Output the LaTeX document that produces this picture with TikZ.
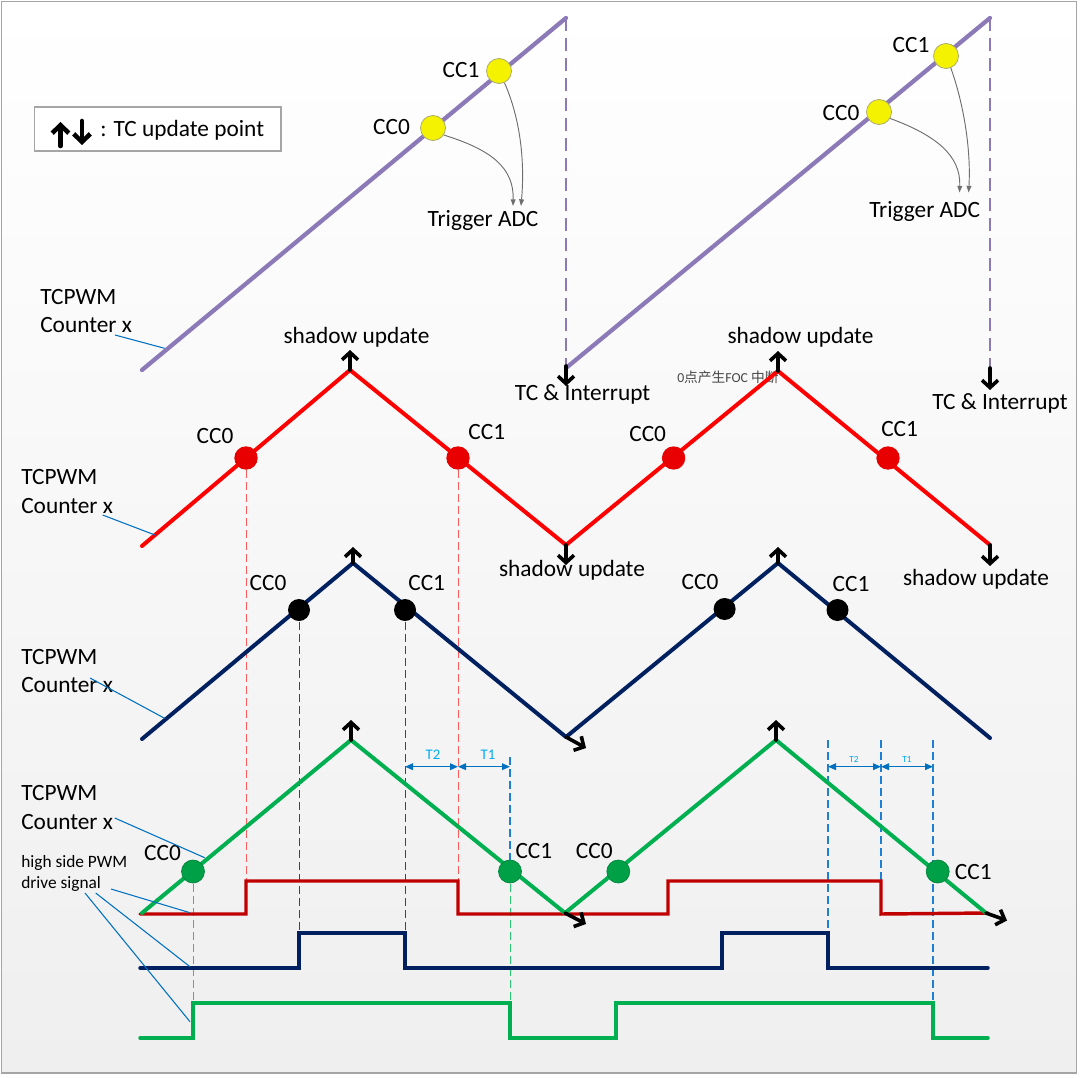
\documentclass[tikz,border=0pt]{standalone}
\usepackage{fontspec}
\setmainfont{Carlito}
\newfontfamily\cjk{Noto Sans CJK SC}
\usetikzlibrary{arrows.meta}
\definecolor{purp}{RGB}{140,122,184}
\definecolor{wred}{RGB}{255,0,0}
\definecolor{cred}{RGB}{232,0,0}
\definecolor{pred}{RGB}{192,0,0}
\definecolor{navy}{RGB}{0,32,96}
\definecolor{grn}{RGB}{0,176,80}
\definecolor{cgrn}{RGB}{0,160,70}
\definecolor{cgrnd}{RGB}{0,130,60}
\definecolor{lead}{RGB}{0,112,192}
\definecolor{tlab}{RGB}{0,170,240}
\definecolor{ltblue}{RGB}{30,128,210}
\definecolor{dred}{RGB}{255,90,90}
\definecolor{dnavy}{RGB}{40,70,140}
\definecolor{dgrn}{RGB}{40,200,110}
\definecolor{ylw}{RGB}{245,242,0}
\definecolor{ybord}{RGB}{170,170,110}
\definecolor{trg}{RGB}{110,110,110}
\definecolor{bgb}{RGB}{239,239,239}
\definecolor{frame}{RGB}{165,165,165}
\begin{document}
\begin{tikzpicture}[x=0.75pt,y=-0.75pt,
  txt/.style={inner sep=0pt, font=\fontsize{17.5}{21}\selectfont},
  smalltxt/.style={inner sep=0pt, font=\fontsize{13}{16}\selectfont},
  saw/.style={draw=purp, line width=3.2pt, line cap=round},
  sawdash/.style={draw=purp, line width=2pt, dash pattern=on 10pt off 5pt},
  wave/.style={line width=3pt, line cap=round, line join=round},
  pwm/.style={line width=2.6pt, line cap=round, line join=miter},
  upd/.style={draw=black, line width=2.7pt, line cap=round, -{Straight Barb[length=5.5pt,width=12pt]}},
  guide/.style={line width=0.75pt, dash pattern=on 6pt off 3pt},
  bguide/.style={line width=0.9pt, dash pattern=on 6pt off 3pt, draw=ltblue},
  leader/.style={draw=lead, line width=0.8pt},
  dot/.style={circle, inner sep=0pt},
  ydot/.style={dot, minimum size=18.75pt, fill=ylw, draw=ybord, line width=0.6pt},
  rdot/.style={dot, minimum size=17.5pt, fill=cred},
  kdot/.style={dot, minimum size=16.5pt, fill=black},
  gdot/.style={dot, minimum size=17.25pt, fill=cgrn, draw=cgrnd, line width=0.5pt},
  trig/.style={draw=trg, line width=0.7pt, -{Triangle[length=5pt,width=3.6pt]}},
  tspan/.style={draw=lead, line width=1pt, {Triangle[length=6pt,width=5pt]}-{Triangle[length=6pt,width=5pt]}},
]
\useasboundingbox (0,0) rectangle (1080,1077);
\fill[white] (0,0) rectangle (1080,1077);
\shade[top color=white, bottom color=bgb] (1.5,1.5) rectangle (1076.5,1073);
\draw[frame, line width=1pt] (1.5,1.5) rectangle (1076.5,1073);

% legend
\node[draw=frame, fill=white, line width=0.8pt, minimum width=184.9pt, minimum height=33pt, inner sep=0pt] (legend) at (157.75,129) {};
\node[txt, anchor=west] (legtxt) at (100,130) {: TC update point};
\coordinate (lu0) at (60.5,146); \coordinate (lu1) at (60.5,122);
\coordinate (ld0) at (82,121); \coordinate (ld1) at (82,145);
\draw[upd, line width=3.4pt, -{Straight Barb[length=6pt,width=12.5pt]}] (lu0) -- (lu1);
\draw[upd, line width=3.4pt, -{Straight Barb[length=6pt,width=12.5pt]}] (ld0) -- (ld1);

% coordinates
\coordinate (p0) at (142,370); \coordinate (p1) at (566,18);
\coordinate (p2) at (566,368); \coordinate (p3) at (990,18);
\coordinate (pd1) at (566,366); \coordinate (pt1) at (566,386);
\coordinate (pd2) at (990,368); \coordinate (pt2) at (990,390);

\coordinate (r0) at (142,546); \coordinate (r1) at (350,370); \coordinate (r2) at (566,545);
\coordinate (r3) at (778,371); \coordinate (r4) at (990,545);
\coordinate (n0) at (142,739); \coordinate (n1) at (353,563); \coordinate (n2) at (566,737);
\coordinate (n3) at (778,563); \coordinate (n4) at (990,738);
\coordinate (g0) at (142,913); \coordinate (g1) at (351,740); \coordinate (g2) at (565,913);
\coordinate (g3) at (776,740); \coordinate (g4) at (986,913);

% guide dashed lines (first half)
\draw[guide, draw=dred] (246,458) -- (246,881);
\draw[guide, draw=dred] (458,458) -- (458,881);
\draw[guide, draw=dnavy] (299,610) -- (299,933);
\draw[guide, draw=dnavy] (405,610) -- (405,933);
\draw[guide, draw=dgrn] (193,871.5) -- (193,1003);
\draw[guide, draw=dgrn] (510,871.5) -- (510,1003);
\draw[bguide] (510,757) -- (510,860);
% second half
\draw[bguide] (828,740) -- (828,933);
\draw[bguide] (881,740) -- (881,881);
\draw[bguide] (933,740) -- (933,1003);

% T spans
\coordinate (ta) at (405,766.7); \coordinate (tb) at (458,766.7); \coordinate (tc) at (510,766.7);
\coordinate (td) at (828,766.7); \coordinate (te) at (881,766.7); \coordinate (tf) at (933,766.7);
\draw[tspan] (ta) -- (tb);
\draw[tspan] (tb) -- (tc);
\draw[tspan] (td) -- (te);
\draw[tspan] (te) -- (tf);
\node[inner sep=0pt, text=tlab, font=\fontsize{11}{13}\selectfont] (t2a) at (433,754.3) {T2};
\node[inner sep=0pt, text=tlab, font=\fontsize{11}{13}\selectfont] (t1a) at (488,754.3) {T1};
\node[inner sep=0pt, text=tlab, font=\fontsize{7}{8}\selectfont] (t2b) at (854,759) {T2};
\node[inner sep=0pt, text=tlab, font=\fontsize{7}{8}\selectfont] (t1b) at (907,759) {T1};

% Chinese note
\node[inner sep=0pt, anchor=west, text=black!72, font=\fontsize{10.3}{12}\selectfont] (foc) at (677,377) {0{\cjk 点产生}FOC {\cjk 中断}};

% PWM signals
\draw[pwm, draw=pred] (140,914) -- (246,914) -- (246,881) -- (458,881) -- (458,914) -- (668,914) -- (668,881) -- (881,881) -- (881,914) -- (988,913);
\draw[pwm, draw=navy] (140,968) -- (299,968) -- (299,933) -- (405,933) -- (405,968) -- (722,968) -- (722,933) -- (828,933) -- (828,968) -- (988,968);
\draw[pwm, draw=grn] (140,1038) -- (193,1038) -- (193,1003) -- (510,1003) -- (510,1038) -- (616,1038) -- (616,1003) -- (933,1003) -- (933,1038) -- (988,1038);

% sawtooth
\draw[sawdash] (p1) -- (pd1);
\draw[sawdash] (p3) -- (pd2);
\draw[saw] (p0) -- (p1);
\draw[saw] (p2) -- (p3);

% triangle waves
\draw[wave, draw=wred] (r0) -- (r1) -- (r2) -- (r3) -- (r4);
\draw[wave, draw=navy] (n0) -- (n1) -- (n2) -- (n3) -- (n4);
\draw[wave, draw=grn] (g0) -- (g1) -- (g2) -- (g3) -- (g4);

% dots
\node[ydot] (ya0) at (433,128) {};
\node[ydot] (ya1) at (499,71) {};
\node[ydot] (yb0) at (879,112) {};
\node[ydot] (yb1) at (946,56) {};
\node[rdot] (ra0) at (246,458) {};
\node[rdot] (ra1) at (458,458) {};
\node[rdot] (rb0) at (673.6,458) {};
\node[rdot] (rb1) at (888,458) {};
\node[kdot] (na0) at (299,610) {};
\node[kdot] (na1) at (405,610) {};
\node[kdot] (nb0) at (724.6,609) {};
\node[kdot] (nb1) at (837.5,610) {};
\node[gdot] (ga0) at (193,871.5) {};
\node[gdot] (ga1) at (510,871.5) {};
\node[gdot] (gb0) at (618.3,871.5) {};
\node[gdot] (gb1) at (937.7,871.5) {};

% trigger ADC curves
\coordinate (tga0) at (513,206); \coordinate (tga1) at (521,206);
\coordinate (tgb0) at (959.5,192.5); \coordinate (tgb1) at (968.6,192.5);
\draw[trig] (ya0.-33) .. controls (492,150) and (514,168) .. (tga0);
\draw[trig] (ya1.-65) .. controls (520,118) and (525,160) .. (tga1);
\draw[trig] (yb0.-30) .. controls (935,135) and (961,155) .. (tgb0);
\draw[trig] (yb1.-68) .. controls (964,105) and (971,150) .. (tgb1);

% update arrows
\draw[upd] (pd1) -- (pt1);
\draw[upd] (pd2) -- (pt2);
\coordinate (ru1) at (350,350); \coordinate (ru3) at (778,351);
\coordinate (rd2) at (566,565); \coordinate (rd4) at (990,566);
\draw[upd] (r1) -- (ru1);
\draw[upd] (r3) -- (ru3);
\draw[upd] (r2) -- (rd2);
\draw[upd] (r4) -- (rd4);
\coordinate (nu1) at (353,547); \coordinate (nu3) at (778,547); \coordinate (nd2) at (586,748);
\draw[upd] (n1) -- (nu1);
\draw[upd] (n3) -- (nu3);
\draw[upd] (n2) -- (nd2);
\coordinate (gu1) at (351,720); \coordinate (gu3) at (776,720);
\coordinate (gd2) at (586,924); \coordinate (gd4) at (1007,920.5);
\draw[upd] (g1) -- (gu1);
\draw[upd] (g3) -- (gu3);
\draw[upd] (g2) -- (gd2);
\draw[upd] (g4) -- (gd4);

% labels
\node[txt] (l1) at (461,70) {CC1};
\node[txt] (l2) at (391.5,127) {CC0};
\node[txt] (l3) at (911,45) {CC1};
\node[txt] (l4) at (841,113) {CC0};
\node[txt] (adc1) at (483,220) {Trigger ADC};
\node[txt] (adc2) at (924.6,211.7) {Trigger ADC};
\node[txt] (tci1) at (582.6,394) {TC \& Interrupt};
\node[txt] (tci2) at (1000,403) {TC \& Interrupt};
\node[txt] (su1) at (356.5,337.3) {shadow update};
\node[txt] (su2) at (800.5,337.7) {shadow update};
\node[txt] (su3) at (572,570) {shadow update};
\node[txt] (su4) at (976,579) {shadow update};
\node[txt] (l5) at (215,436) {CC0};
\node[txt] (l6) at (486.8,431.7) {CC1};
\node[txt] (l7) at (647.7,434) {CC0};
\node[txt] (l8) at (899.6,429) {CC1};
\node[txt] (l9) at (268,582.7) {CC0};
\node[txt] (l10) at (426.7,582.7) {CC1};
\node[txt] (l11) at (700,581.7) {CC0};
\node[txt] (l12) at (851,584) {CC1};
\node[txt] (l13) at (162.6,853.3) {CC0};
\node[txt] (l14) at (533.9,851) {CC1};
\node[txt] (l15) at (594.3,851) {CC0};
\node[txt] (l16) at (973.3,871.7) {CC1};

\node[txt, anchor=west] (c1a) at (40,297) {TCPWM};
\node[txt, anchor=west] (c1b) at (40,325) {Counter x};
\node[txt, anchor=west] (c2a) at (21,476.7) {TCPWM};
\node[txt, anchor=west] (c2b) at (21,506) {Counter x};
\node[txt, anchor=west] (c3a) at (21,656.7) {TCPWM};
\node[txt, anchor=west] (c3b) at (21,685) {Counter x};
\node[txt, anchor=west] (c4a) at (21,793) {TCPWM};
\node[txt, anchor=west] (c4b) at (21,821.7) {Counter x};
\node[smalltxt, anchor=west] (hs1) at (21,862.7) {high side PWM};
\node[smalltxt, anchor=west] (hs2) at (21,884) {drive signal};

% leader lines
\coordinate (k1a) at (115,335); \coordinate (k1b) at (164.6,348.3);
\coordinate (k2a) at (102.6,515); \coordinate (k2b) at (155,535);
\coordinate (k3a) at (90,678); \coordinate (k3b) at (164.6,718.3);
\coordinate (k4a) at (114.8,818); \coordinate (k4b) at (204.7,857.7);
\coordinate (k5a) at (111,889); \coordinate (k5b) at (190,912.7);
\coordinate (k6a) at (95.7,893); \coordinate (k6b) at (190,966.7);
\coordinate (k7a) at (85,893); \coordinate (k7b) at (190,1021.7);
\draw[leader] (k1a) -- (k1b);
\draw[leader] (k2a) -- (k2b);
\draw[leader] (k3a) -- (k3b);
\draw[leader] (k4a) -- (k4b);
\draw[leader] (k5a) -- (k5b);
\draw[leader] (k6a) -- (k6b);
\draw[leader] (k7a) -- (k7b);
\end{tikzpicture}
\end{document}
